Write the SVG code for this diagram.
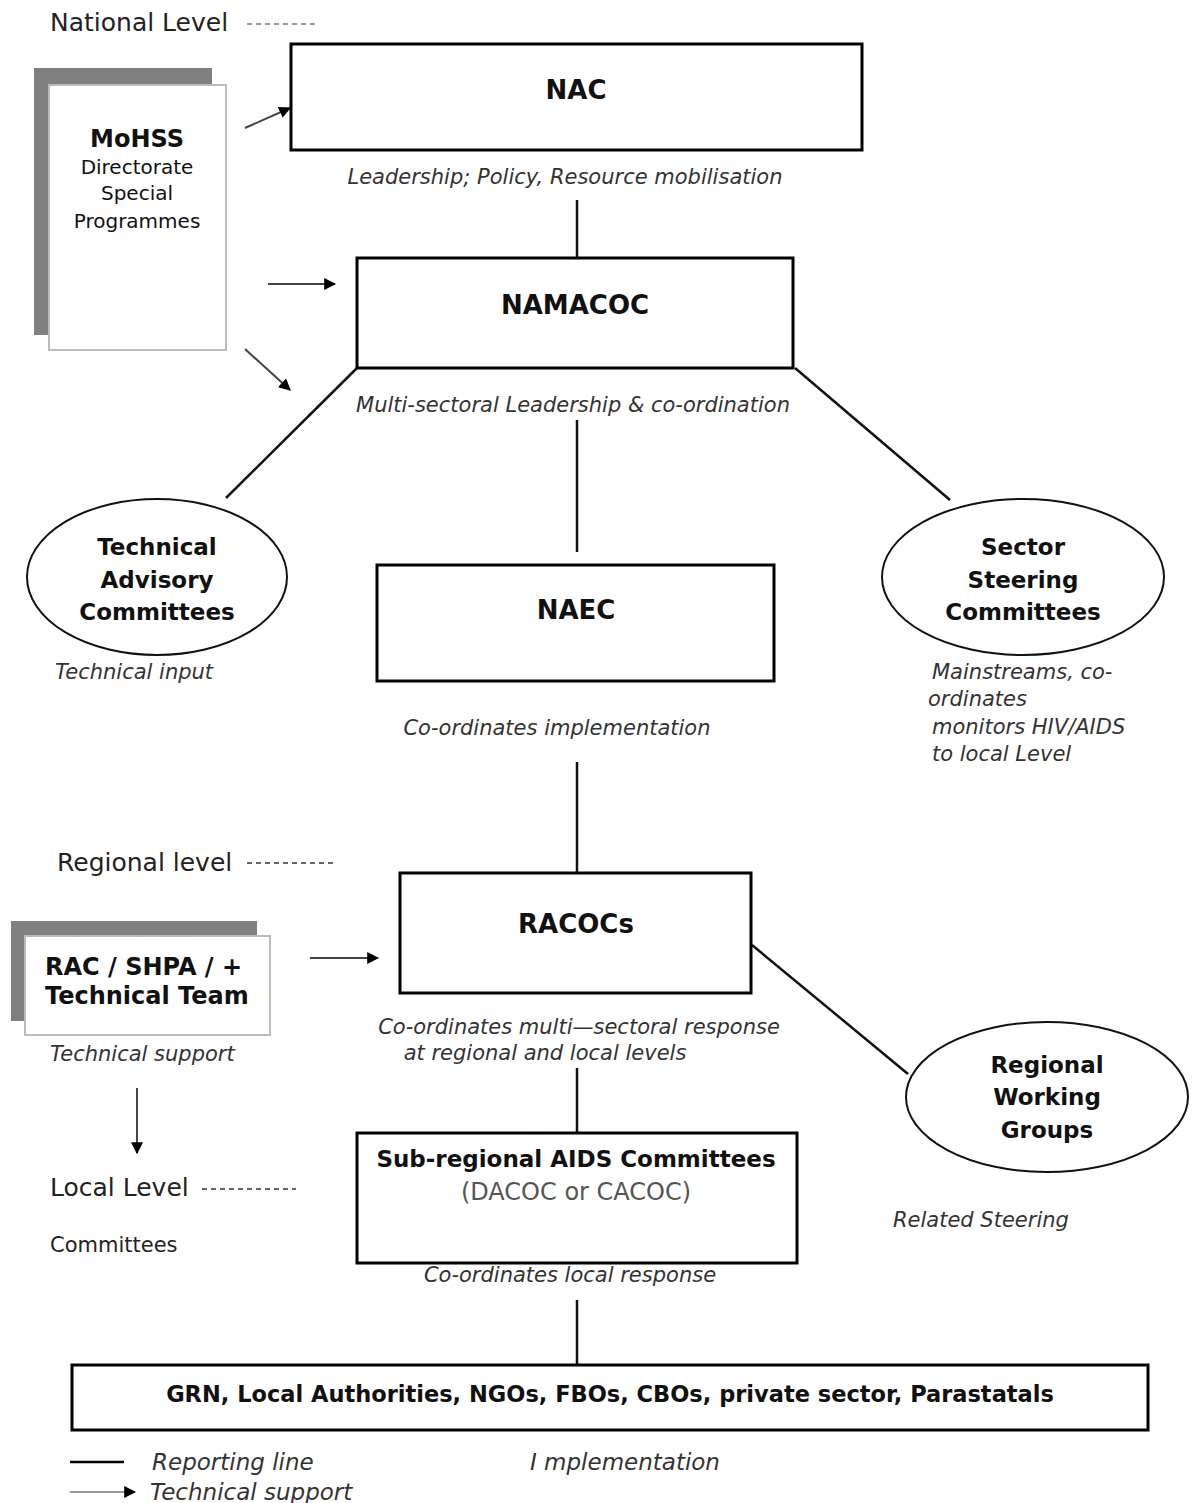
<svg xmlns="http://www.w3.org/2000/svg" width="1193" height="1503" viewBox="0 0 1193 1503">
<style>
text{font-family:"DejaVu Sans","Liberation Sans",sans-serif;fill:#111}
.b{font-weight:bold;font-size:24px}
.t{font-size:20px;text-anchor:middle}
.i{font-style:italic;font-size:21px;fill:#333}
.lg{font-style:italic;font-size:23px;fill:#333}
.lv{font-size:25px;fill:#222}
.box{fill:#fff;stroke:#000;stroke-width:3}
.ell{fill:#fff;stroke:#111;stroke-width:2}
.ln{stroke:#111;stroke-width:2.5;fill:none}
.ar{stroke:#444;stroke-width:2;fill:none;marker-end:url(#ah)}
.dash{stroke:#666;stroke-width:2;stroke-dasharray:5 4}
.m{text-anchor:middle}
</style>
<defs>
<marker id="ah" viewBox="0 0 10 10" refX="9" refY="5" markerWidth="6" markerHeight="6" orient="auto" markerUnits="strokeWidth">
<path d="M0,0L10,5L0,10z" fill="#000"/>
</marker>
</defs>
<rect width="1193" height="1503" fill="#fff"/>

<g id="levels">
<text class="lv" x="50" y="31">National Level</text>
<line class="dash" x1="247" y1="24" x2="318" y2="24" style="stroke:#999"/>
<text class="lv" x="57" y="871">Regional level</text>
<line class="dash" x1="247" y1="863" x2="335" y2="863"/>
<text class="lv" x="50" y="1196">Local Level</text>
<line class="dash" x1="202" y1="1189" x2="296" y2="1189"/>
<text class="lv" x="50" y="1252" style="font-size:21px">Committees</text>
</g>

<g id="connectors">
<line class="ln" x1="577" y1="200" x2="577" y2="258"/>
<line class="ln" x1="577" y1="420" x2="577" y2="552"/>
<line class="ln" x1="577" y1="762" x2="577" y2="872"/>
<line class="ln" x1="577" y1="1068" x2="577" y2="1133"/>
<line class="ln" x1="577" y1="1300" x2="577" y2="1365"/>
<line class="ln" x1="357" y1="368" x2="226" y2="498"/>
<line class="ln" x1="795" y1="368" x2="950" y2="500"/>
<line class="ln" x1="752" y1="945" x2="908" y2="1074"/>
<line class="ar" x1="245" y1="128" x2="290" y2="108"/>
<line class="ar" x1="268" y1="284" x2="335" y2="284"/>
<line class="ar" x1="245" y1="349" x2="290" y2="390"/>
<line class="ar" x1="310" y1="958" x2="378" y2="958"/>
<line class="ar" x1="137" y1="1088" x2="137" y2="1153"/>
</g>

<g id="mohss">
<rect x="34" y="68" width="178" height="267" fill="#808080"/>
<rect x="49" y="85" width="177" height="265" fill="#fff" stroke="#bbb" stroke-width="2"/>
<text class="b m" x="137" y="147">MoHSS</text>
<text class="t" x="137" y="174" style="font-size:20px">Directorate</text>
<text class="t" x="137" y="200" style="font-size:20px">Special</text>
<text class="t" x="137" y="228" style="font-size:20px">Programmes</text>
</g>

<g id="nac">
<rect class="box" x="291" y="44" width="571" height="106"/>
<text class="b m" x="576" y="99" style="font-size:26px">NAC</text>
<text class="i m" x="565" y="184">Leadership; Policy, Resource mobilisation</text>
</g>

<g id="namacoc">
<rect class="box" x="357" y="258" width="436" height="110"/>
<text class="b m" x="575" y="314" style="font-size:26px">NAMACOC</text>
<text class="i m" x="573" y="412">Multi-sectoral Leadership &amp; co-ordination</text>
</g>

<g id="tac">
<ellipse class="ell" cx="157" cy="577" rx="130" ry="78"/>
<text class="b m" x="157" y="555" style="font-size:23px">Technical</text>
<text class="b m" x="157" y="588" style="font-size:23px">Advisory</text>
<text class="b m" x="157" y="620" style="font-size:23px">Committees</text>
<text class="i" x="55" y="679">Technical input</text>
</g>

<g id="ssc">
<ellipse class="ell" cx="1023" cy="577" rx="141" ry="78"/>
<text class="b m" x="1023" y="555" style="font-size:23px">Sector</text>
<text class="b m" x="1023" y="588" style="font-size:23px">Steering</text>
<text class="b m" x="1023" y="620" style="font-size:23px">Committees</text>
<text class="i" x="932" y="679">Mainstreams, co-</text>
<text class="i" x="928" y="706">ordinates</text>
<text class="i" x="932" y="734">monitors HIV/AIDS</text>
<text class="i" x="932" y="761">to local Level</text>
</g>

<g id="naec">
<rect class="box" x="377" y="565" width="397" height="116"/>
<text class="b m" x="576" y="619" style="font-size:26px">NAEC</text>
<text class="i m" x="557" y="735">Co-ordinates implementation</text>
</g>

<g id="racocs">
<rect class="box" x="400" y="873" width="351" height="120"/>
<text class="b m" x="576" y="933" style="font-size:26px">RACOCs</text>
<text class="i m" x="579" y="1034">Co-ordinates multi—sectoral response</text>
<text class="i m" x="545" y="1060">at regional and local levels</text>
</g>

<g id="rac">
<rect x="11" y="921" width="246" height="100" fill="#808080"/>
<rect x="25" y="936" width="245" height="99" fill="#fff" stroke="#bbb" stroke-width="2"/>
<text class="b" x="45" y="975">RAC / SHPA / +</text>
<text class="b" x="45" y="1004">Technical Team</text>
<text class="i" x="50" y="1061">Technical support</text>
</g>

<g id="rwg">
<ellipse class="ell" cx="1047" cy="1097" rx="141" ry="75"/>
<text class="b m" x="1047" y="1073" style="font-size:23px">Regional</text>
<text class="b m" x="1047" y="1105" style="font-size:23px">Working</text>
<text class="b m" x="1047" y="1138" style="font-size:23px">Groups</text>
<text class="i" x="893" y="1227">Related Steering</text>
</g>

<g id="subregional">
<rect class="box" x="357" y="1133" width="440" height="130"/>
<text class="b m" x="576" y="1167" style="font-size:23px">Sub-regional AIDS Committees</text>
<text class="t" x="576" y="1200" style="fill:#555;font-size:24px">(DACOC or CACOC)</text>
<text class="i m" x="570" y="1282">Co-ordinates local response</text>
</g>

<g id="grn">
<rect class="box" x="72" y="1365" width="1076" height="65"/>
<text class="b m" x="610" y="1402" style="font-size:22.5px">GRN, Local Authorities, NGOs, FBOs, CBOs, private sector, Parastatals</text>
</g>

<g id="legend">
<line x1="70" y1="1462" x2="124" y2="1462" stroke="#000" stroke-width="2.5"/>
<text class="lg" x="152" y="1470">Reporting line</text>
<line class="ar" x1="70" y1="1492" x2="135" y2="1492" style="stroke:#999"/>
<text class="lg" x="150" y="1500">Technical support</text>
<text class="lg" x="530" y="1470">I mplementation</text>
</g>
</svg>
